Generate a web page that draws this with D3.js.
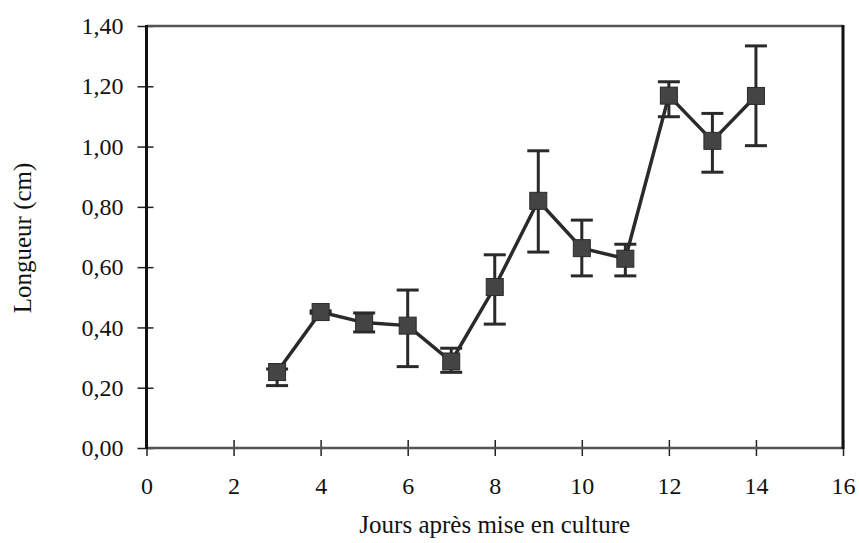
<!DOCTYPE html>
<html>
<head>
<meta charset="utf-8">
<script src="https://cdn.jsdelivr.net/npm/d3@7"></script>
<style>
  html, body { margin: 0; padding: 0; background: #fff; }
  svg { display: block; }
</style>
</head>
<body>
<svg id="chart" width="859" height="543"></svg>
<script>
// ---- data ----
const days = [3, 4, 5, 6, 7, 8, 9, 10, 11, 12, 13, 14];
const lengths = [0.252, 0.451, 0.416, 0.406, 0.287, 0.534, 0.820, 0.663, 0.628, 1.169, 1.019, 1.168];
const errHigh = [0.262, 0.455, 0.448, 0.524, 0.331, 0.641, 0.986, 0.756, 0.676, 1.215, 1.110, 1.334];
const errLow  = [0.207, 0.447, 0.385, 0.270, 0.251, 0.411, 0.650, 0.571, 0.571, 1.099, 0.915, 1.003];
const xTicks = [0, 2, 4, 6, 8, 10, 12, 14, 16];
const yTicks = [0, 0.2, 0.4, 0.6, 0.8, 1.0, 1.2, 1.4];
const yTickLabels = ["0,00", "0,20", "0,40", "0,60", "0,80", "1,00", "1,20", "1,40"];
const xTitle = "Jours après mise en culture";
const yTitle = "Longueur (cm)";

// ---- layout ----
const FONT = "'Liberation Serif', 'Times New Roman', 'DejaVu Serif', serif";
const pLeft = 146.5, pRight = 843, pTop = 26, pBottom = 448;
const svg = d3.select("#chart").attr("font-family", FONT);
const x = d3.scaleLinear().domain([0, 16]).range([pLeft, pRight]);
const y = d3.scaleLinear().domain([0, 1.4]).range([pBottom, pTop]);

const dark = "#222";

// axes
const xAxis = svg.append("g").attr("transform", `translate(0,${pBottom})`)
  .call(d3.axisBottom(x).tickValues(xTicks).tickSize(8).tickPadding(21).tickFormat(d3.format("d")))
  .attr("font-family", FONT).attr("font-size", 24);
xAxis.select(".domain").remove();
xAxis.selectAll(".tick line").attr("y1", -8).attr("y2", 8).attr("stroke", dark).attr("stroke-width", 1.5);
xAxis.selectAll(".tick text").attr("fill", "#111");

const yAxis = svg.append("g").attr("transform", `translate(${pLeft},0)`)
  .call(d3.axisLeft(y).tickValues(yTicks).tickSize(9).tickPadding(14)
    .tickFormat((d, i) => yTickLabels[i]))
  .attr("font-family", FONT).attr("font-size", 24);
yAxis.select(".domain").remove();
yAxis.selectAll(".tick line").attr("x1", -9).attr("x2", 7).attr("stroke", dark).attr("stroke-width", 1.5);
yAxis.selectAll(".tick text").attr("fill", "#111");

// frame
const frame = svg.append("g").attr("fill", "none");
frame.append("line").attr("x1", pLeft).attr("x2", pRight).attr("y1", pTop).attr("y2", pTop)
  .attr("stroke", "#555").attr("stroke-width", 2.5);
frame.append("line").attr("x1", pLeft).attr("x2", pRight).attr("y1", pBottom).attr("y2", pBottom)
  .attr("stroke", "#555").attr("stroke-width", 2.5);
frame.append("line").attr("x1", pLeft).attr("x2", pLeft).attr("y1", pTop - 1).attr("y2", pBottom + 1)
  .attr("stroke", "#111").attr("stroke-width", 3);
frame.append("line").attr("x1", pRight).attr("x2", pRight).attr("y1", pTop - 1).attr("y2", pBottom + 1)
  .attr("stroke", "#111").attr("stroke-width", 3);

// titles
svg.append("text").attr("x", (pLeft + pRight) / 2).attr("y", 533)
  .attr("text-anchor", "middle").attr("font-size", 25).attr("fill", "#111").text(xTitle);
svg.append("text").attr("transform", `translate(31,238) rotate(-90)`)
  .attr("text-anchor", "middle").attr("font-size", 25).attr("fill", "#111").text(yTitle);

const pts = days.map((d, i) => ({ d, v: lengths[i], hi: errHigh[i], lo: errLow[i] }));

// error bars
const eb = svg.append("g").attr("stroke", "#2a2a2a").attr("stroke-width", 3);
pts.forEach(p => {
  eb.append("line").attr("x1", x(p.d)).attr("x2", x(p.d)).attr("y1", y(p.hi)).attr("y2", y(p.lo));
  eb.append("line").attr("x1", x(p.d) - 11).attr("x2", x(p.d) + 11).attr("y1", y(p.hi)).attr("y2", y(p.hi));
  eb.append("line").attr("x1", x(p.d) - 11).attr("x2", x(p.d) + 11).attr("y1", y(p.lo)).attr("y2", y(p.lo));
});

// line
svg.append("path").datum(pts)
  .attr("fill", "none").attr("stroke", "#2a2a2a").attr("stroke-width", 3.5)
  .attr("d", d3.line().x(p => x(p.d)).y(p => y(p.v)));

// markers
const s = 17;
svg.append("g").selectAll("rect").data(pts).join("rect")
  .attr("x", p => x(p.d) - s / 2).attr("y", p => y(p.v) - s / 2)
  .attr("width", s).attr("height", s)
  .attr("fill", "#444").attr("stroke", "#2a2a2a").attr("stroke-width", 1);
</script>
</body>
</html>
